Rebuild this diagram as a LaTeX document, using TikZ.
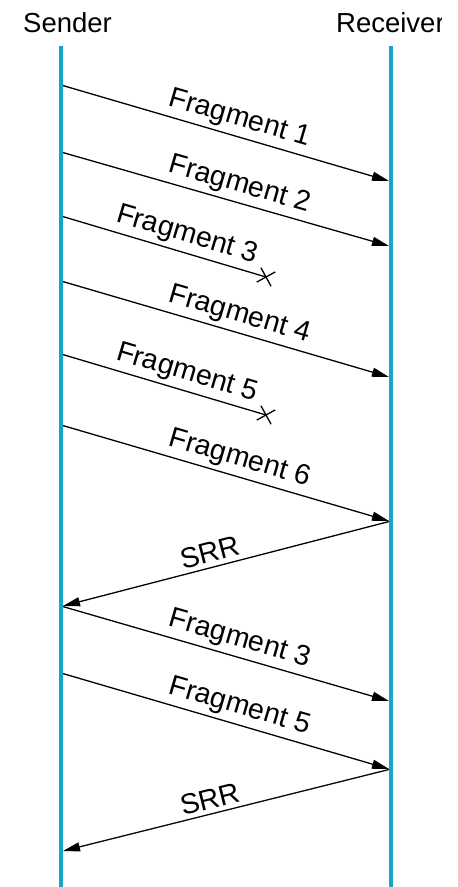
\documentclass[tikz,border=0pt]{standalone}
\usepackage{fontspec}
\setmainfont{Liberation Sans}
\usetikzlibrary{arrows.meta}
\definecolor{lifeline}{RGB}{22,164,206}
\tikzset{
  lifeln/.style={draw=lifeline, line width=3.6pt},
  msg/.style={draw=black, line width=1.3pt, -{Triangle[length=17pt,width=9pt]}},
  lostmsg/.style={draw=black, line width=1.3pt},
  crossmark/.style={draw=black, line width=1.3pt},
  lbl/.style={font=\fontsize{28.5}{34}\selectfont, sloped, above, inner sep=4pt},
  head/.style={font=\fontsize{27.5}{33}\selectfont, inner sep=0pt}
}
\begin{document}
\begin{tikzpicture}[x=1pt,y=-1pt]
\useasboundingbox (0,0) rectangle (458,887);

% headings (the right one is cut off at the frame edge)
\node[head, anchor=base] (snd) at (67.5,32) {Sender};
\begin{scope}
  \clip (300,0) rectangle (441.5,60);
  \node[head, anchor=base west] (rcv) at (336,32) {Receiver};
\end{scope}

% lifelines
\coordinate (stop) at (61,46);
\coordinate (sbot) at (61,890);
\coordinate (rtop) at (391,46);
\coordinate (rbot) at (391,890);

% message end points
\coordinate (a1) at (61,85);   \coordinate (b1) at (389,181);
\coordinate (a2) at (61,152);  \coordinate (b2) at (389,246);
\coordinate (a3) at (61,216);  \coordinate (x3) at (266,277);
\coordinate (a4) at (61,281);  \coordinate (b4) at (389,377);
\coordinate (a5) at (61,354);  \coordinate (x5) at (266,415);
\coordinate (a6) at (61,425);  \coordinate (b6) at (389,521);
\coordinate (q1) at (391,521); \coordinate (p1) at (63,606);
\coordinate (a7) at (61,606);  \coordinate (b7) at (389,701);
\coordinate (a8) at (61,673);  \coordinate (b8) at (389,769);
\coordinate (q2) at (391,769); \coordinate (p2) at (63,851);

% messages
\draw[msg] (a1) -- node[lbl, pos=0.53] {Fragment 1} (b1);
\draw[msg] (a2) -- node[lbl, pos=0.53] {Fragment 2} (b2);
\draw[lostmsg] (a3) -- node[lbl, pos=0.59] {Fragment 3} (x3);
\draw[msg] (a4) -- node[lbl, pos=0.53] {Fragment 4} (b4);
\draw[lostmsg] (a5) -- node[lbl, pos=0.59] {Fragment 5} (x5);
\draw[msg] (a6) -- node[lbl, pos=0.53] {Fragment 6} (b6);
\draw[msg] (q1) -- node[lbl, pos=0.54] {SRR} (p1);
\draw[msg] (a7) -- node[lbl, pos=0.53] {Fragment 3} (b7);
\draw[msg] (a8) -- node[lbl, pos=0.53] {Fragment 5} (b8);
\draw[msg] (q2) -- node[lbl, pos=0.54] {SRR} (p2);

% loss markers
\foreach \c in {x3,x5}{
  \draw[crossmark] ([shift={(-5.06,-9.2)}]\c) -- ([shift={(5.06,9.2)}]\c);
  \draw[crossmark] ([shift={(-9.2,5.06)}]\c) -- ([shift={(9.2,-5.06)}]\c);
}

% lifelines on top
\draw[lifeln] (stop) -- (sbot);
\draw[lifeln] (rtop) -- (rbot);
\end{tikzpicture}
\end{document}
